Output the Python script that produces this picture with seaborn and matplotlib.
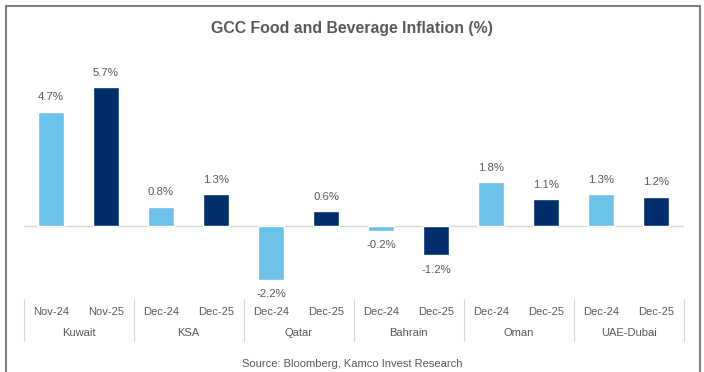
import matplotlib
matplotlib.use("Agg")
import matplotlib.pyplot as plt
from matplotlib.patches import Rectangle
from matplotlib.transforms import blended_transform_factory
import numpy as np
import pandas as pd
import seaborn as sns

# Food and beverage inflation by GCC country, prior year vs latest reading (%)
countries = ["Kuwait", "KSA", "Qatar", "Bahrain", "Oman", "UAE-Dubai"]
prior_periods = ["Nov-24", "Dec-24", "Dec-24", "Dec-24", "Dec-24", "Dec-24"]
latest_periods = ["Nov-25", "Dec-25", "Dec-25", "Dec-25", "Dec-25", "Dec-25"]
prior_values = [4.7, 0.8, -2.2, -0.2, 1.8, 1.3]
latest_values = [5.7, 1.3, 0.6, -1.2, 1.1, 1.2]

LIGHT = "#6DC2EA"
DARK = "#002D6C"
TEXT = "#595959"

rows = []
for c, p0, p1, v0, v1 in zip(countries, prior_periods, latest_periods,
                              prior_values, latest_values):
    rows.append({"slot": f"{c}|{p0}", "country": c, "period": p0, "value": v0, "kind": "prior"})
    rows.append({"slot": f"{c}|{p1}", "country": c, "period": p1, "value": v1, "kind": "latest"})
df = pd.DataFrame(rows)

sns.set_theme(style="white")
plt.rcParams["font.family"] = ["Liberation Sans", "DejaVu Sans"]

W, H = 704, 372
fig = plt.figure(figsize=(W / 100, H / 100), dpi=100)
fig.patch.set_facecolor("white")

# axes placed in pixel terms: zero line at y=226, 24.35 px per percentage point
px_per_unit = 24.35
ax_left, ax_right = 23.5, 683.5
ax_top, ax_bottom = 60, 298
zero_y = 226
ax = fig.add_axes([ax_left / W, 1 - ax_bottom / H,
                   (ax_right - ax_left) / W, (ax_bottom - ax_top) / H])

palette = {s: (LIGHT if k == "prior" else DARK) for s, k in zip(df["slot"], df["kind"])}
sns.barplot(data=df, x="slot", y="value", hue="slot", palette=palette,
            order=list(df["slot"]), legend=False, width=0.49, saturation=1,
            ax=ax)

ax.set_ylim(-(ax_bottom - zero_y) / px_per_unit, (zero_y - ax_top) / px_per_unit)
ax.set_xlim(-0.5, len(df) - 0.5)
ax.axhline(0, color="#D9D9D9", lw=1.0, zorder=0)
for s in ax.spines.values():
    s.set_visible(False)
ax.set_yticks([])
ax.set_xlabel("")
ax.set_ylabel("")
ax.set_xticks(range(len(df)))
ax.set_xticklabels(df["period"], color=TEXT, fontsize=8)
ax.tick_params(axis="x", length=0, pad=6.5)

# value labels
for i, v in enumerate(df["value"]):
    off = 10.3 if v >= 0 else -10.3
    ax.annotate(f"{v:.1f}%", (i, v), xytext=(0, off), textcoords="offset points",
                ha="center", va="center", color=TEXT, fontsize=8.2)

# country group labels and separators beneath the axis
btr = blended_transform_factory(ax.transData, fig.transFigure)
for g, c in enumerate(countries):
    fig.text(2 * g + 0.5, 1 - 333 / H, c, transform=btr, ha="center", va="center",
             color=TEXT, fontsize=8)
for k in range(len(countries) + 1):
    xb = 2 * k - 0.5
    ax.plot([xb, xb], [1 - 299 / H, 1 - 341 / H], transform=btr, color="#D9D9D9",
            lw=0.8, clip_on=False)

fig.text(352 / W, 1 - 28 / H, "GCC Food and Beverage Inflation (%)", ha="center",
         va="center", color=TEXT, fontsize=11.4, fontweight="bold")
fig.text(352 / W, 1 - 364 / H, "Source: Bloomberg, Kamco Invest Research", ha="center",
         va="center", color=TEXT, fontsize=8)

# outer border
fig.patches.append(Rectangle((6 / W, -0.05), (700 - 6) / W, 1.05 - 6 / H,
                             transform=fig.transFigure, fill=False,
                             edgecolor="#7F7F7F", lw=1.5))

fig.savefig("out.png", dpi=100)
